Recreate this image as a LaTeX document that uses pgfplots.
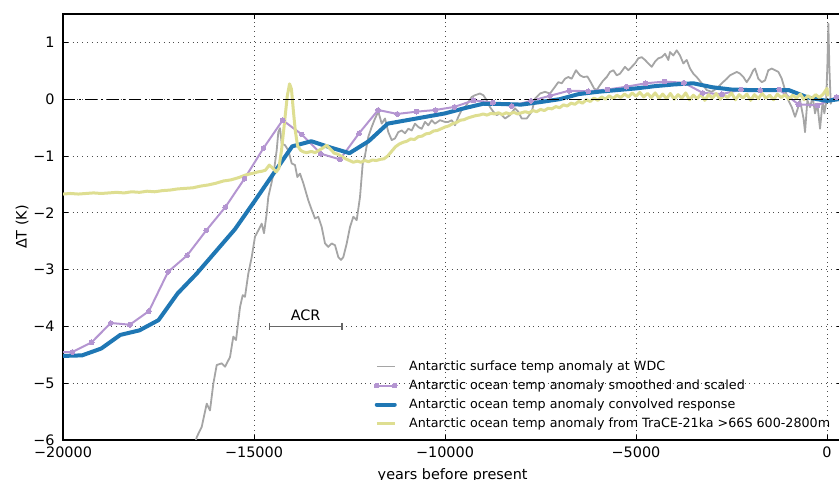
\documentclass[border=0pt]{standalone}
\usepackage{fontspec}
\setmainfont{DejaVu Sans}
\usepackage{pgfplots}
\pgfplotsset{compat=1.18}
\definecolor{wdcgray}{RGB}{165,165,165}
\definecolor{smpurple}{RGB}{180,149,209}
\definecolor{convblue}{RGB}{31,119,180}
\definecolor{traceyel}{RGB}{222,222,145}
\newcommand{\tickfont}{\fontsize{7.2}{8.6}\selectfont}
\pgfplotsset{
  markleg/.style={legend image code/.code={\draw[##1] plot coordinates {(0pt,0pt) (9pt,0pt)};}},
  roundleg/.style={legend image code/.code={\draw[##1,mark=none,line cap=round] (0pt,0pt) -- (9pt,0pt);}},
}
\begin{document}
\begin{tikzpicture}
\begin{axis}[
  scale only axis,
  width=389.65pt, height=213pt,
  xmin=-20000, xmax=400, ymin=-6, ymax=1.5,
  scaled x ticks=false,
  xtick={-20000,-15000,-10000,-5000,0},
  xticklabels={−20000,−15000,−10000,−5000,0},
  ytick={-6,-5,-4,-3,-2,-1,0,1},
  yticklabels={−6,−5,−4,−3,−2,−1,0,1},
  tick label style={font=\tickfont, inner sep=0pt},
  xticklabel style={yshift=-3.3pt},
  yticklabel style={xshift=-4pt},
  tick align=inside, major tick length=2.5pt,
  tick style={black, line width=0.4pt},
  axis line style={line width=0.6pt},
  grid=major, grid style={dotted, black!70, line width=0.4pt},
  xlabel={years before present},
  xlabel style={at={(axis description cs:0.5,-0.0657)}, anchor=north, inner sep=0pt, font=\tickfont},
  ylabel={ΔT (K)},
  ylabel style={at={(axis description cs:-0.0526,0.5)}, anchor=center, inner sep=0pt, font=\tickfont},
  legend style={at={(axis description cs:0.399,0.1886)}, anchor=north west, draw=none, fill=none,
    inner sep=0pt, column sep=6pt, row sep=3pt,
    nodes={inner sep=0pt, text height=5pt, text depth=1.5pt},
    font=\fontsize{6.35}{7.6}\selectfont},
  legend cell align=left,
  legend image code/.code={\draw[#1,mark=none] (0pt,0pt) -- (9pt,0pt);},
]
% WDC surface temperature
\addplot[wdcgray, line width=0.9pt, line join=round] coordinates {
(-16700,-6.5) (-16500,-5.95) (-16369,-5.77) (-16238,-5.36) (-16152,-5.48) (-16065,-5.01) (-15976,-4.68)
(-15845,-4.65) (-15759,-4.71) (-15628,-4.54) (-15542,-4.18) (-15471,-4.24) (-15366,-3.66) (-15296,-3.45)
(-15236,-3.48) (-15149,-3.07) (-15060,-2.78) (-14974,-2.42) (-14887,-2.31) (-14798,-2.19) (-14738,-2.36)
(-14668,-2.01) (-14626,-1.72) (-14537,-1.46) (-14476,-1.25) (-14406,-0.90) (-14364,-0.58) (-14319,-0.51)
(-14275,-0.78) (-14188,-0.81) (-14102,-0.90) (-14013,-1.13) (-13927,-1.16) (-13866,-1.37) (-13796,-1.31)
(-13709,-1.48) (-13579,-1.78) (-13489,-1.95) (-13403,-2.10) (-13317,-2.07) (-13228,-2.25) (-13141,-2.54)
(-13055,-2.60) (-12966,-2.54) (-12880,-2.57) (-12793,-2.78) (-12723,-2.83) (-12662,-2.78) (-12573,-2.54)
(-12487,-2.25) (-12400,-2.07) (-12312,-2.13) (-12225,-1.72) (-12154,-1.13) (-12094,-0.99) (-12008,-0.66)
(-11919,-0.49) (-11832,-0.34) (-11746,-0.22) (-11657,-0.43) (-11571,-0.34) (-11484,-0.58) (-11395,-0.72)
(-11309,-0.69) (-11223,-0.58) (-11134,-0.55) (-11047,-0.60) (-10961,-0.52) (-10872,-0.55) (-10785,-0.43)
(-10699,-0.49) (-10610,-0.52) (-10524,-0.40) (-10437,-0.46) (-10348,-0.37) (-10262,-0.43) (-10131,-0.37)
(-10000,-0.40) (-9913,-0.40) (-9825,-0.37) (-9738,-0.46) (-9652,-0.31) (-9563,-0.19) (-9476,-0.14)
(-9390,-0.05) (-9301,0.04) (-9215,0.07) (-9084,0.10) (-8997,0.07) (-8908,-0.02) (-8822,-0.14)
(-8736,-0.22) (-8647,-0.28) (-8560,-0.25) (-8429,-0.34) (-8298,-0.28) (-8168,-0.16) (-8081,-0.22)
(-7992,-0.34) (-7861,-0.34) (-7730,-0.22) (-7644,0.01) (-7513,0.10) (-7382,0.13) (-7251,0.10)
(-7120,0.22) (-7034,0.30) (-6945,0.28) (-6859,0.36) (-6772,0.39) (-6683,0.36) (-6571,0.51)
(-6466,0.42) (-6379,0.39) (-6274,0.40) (-6186,0.30) (-6099,0.19) (-6029,0.16) (-5942,0.25)
(-5856,0.33) (-5767,0.39) (-5681,0.48) (-5594,0.51) (-5505,0.42) (-5419,0.45) (-5288,0.57)
(-5202,0.51) (-5113,0.57) (-5026,0.63) (-4940,0.72) (-4851,0.74) (-4764,0.69) (-4678,0.63)
(-4589,0.57) (-4503,0.66) (-4416,0.72) (-4327,0.74) (-4241,0.80) (-4154,0.69) (-4110,0.83)
(-4023,0.77) (-3935,0.86) (-3849,0.77) (-3762,0.63) (-3673,0.69) (-3586,0.54) (-3500,0.45)
(-3411,0.39) (-3280,0.28) (-3149,0.16) (-3018,0.13) (-2887,0.19) (-2756,0.28) (-2625,0.36)
(-2539,0.42) (-2452,0.45) (-2364,0.48) (-2277,0.45) (-2190,0.39) (-2102,0.30) (-2015,0.39)
(-1929,0.51) (-1884,0.54) (-1798,0.36) (-1709,0.30) (-1623,0.33) (-1536,0.51) (-1447,0.54)
(-1361,0.51) (-1274,0.48) (-1185,0.36) (-1098,0.16) (-1012,-0.02) (-923,-0.14) (-837,-0.31)
(-777,-0.19) (-706,-0.02) (-615,-0.34) (-576,-0.58) (-515,-0.02) (-445,-0.14) (-375,0.04)
(-314,-0.25) (-254,-0.08) (-183,-0.52) (-112,-0.02) (-71,-0.25) (-27,-0.08) (8,0.57)
(35,1.33) (61,0.57) (97,-0.08) (123,-0.02)
};
\addlegendentry{Antarctic surface temp anomaly at WDC}
% smoothed and scaled ocean anomaly
\addplot[smpurple, line width=1pt, mark=*, mark size=1.2pt, mark options={line width=0pt}, markleg] coordinates {
(-20250,-4.46) (-19750,-4.45) (-19250,-4.28) (-18750,-3.94) (-18250,-3.97) (-17750,-3.73)
(-17250,-3.04) (-16750,-2.75) (-16250,-2.31) (-15750,-1.90) (-15250,-1.40) (-14750,-0.86)
(-14250,-0.37) (-13750,-0.62) (-13250,-0.96) (-12750,-1.06) (-12250,-0.60) (-11750,-0.19)
(-11250,-0.26) (-10750,-0.22) (-10250,-0.19) (-9750,-0.135) (-9250,-0.02) (-8750,-0.06)
(-8250,-0.12) (-7750,-0.03) (-7250,0.06) (-6750,0.15) (-6250,0.14) (-5750,0.17)
(-5250,0.22) (-4750,0.28) (-4250,0.31) (-3750,0.29) (-3250,0.11) (-2750,0.09)
(-2250,0.17) (-1750,0.16) (-1250,0.17) (-750,-0.09) (-250,-0.11) (250,0.04)
};
\addlegendentry{Antarctic ocean temp anomaly smoothed and scaled}
% convolved response
\addplot[convblue, line width=2pt, line join=round, line cap=round, roundleg] coordinates {
(-20000,-4.52) (-19500,-4.51) (-19000,-4.39) (-18500,-4.15) (-18000,-4.07) (-17500,-3.89)
(-17000,-3.42) (-16500,-3.07) (-16000,-2.68) (-15500,-2.29) (-15000,-1.81) (-14500,-1.32)
(-14000,-0.83) (-13500,-0.74) (-13000,-0.85) (-12500,-0.95) (-12000,-0.74) (-11500,-0.43)
(-11000,-0.37) (-10500,-0.31) (-10000,-0.25) (-9500,-0.16) (-9000,-0.08) (-8500,-0.085)
(-8000,-0.095) (-7500,-0.05) (-7000,0.0) (-6500,0.09) (-6000,0.13) (-5500,0.16)
(-5000,0.19) (-4500,0.23) (-4000,0.26) (-3500,0.28) (-3000,0.21) (-2500,0.17)
(-2000,0.16) (-1500,0.16) (-1000,0.16) (-500,0.03) (0,-0.03) (500,0.02)
};
\addlegendentry{Antarctic ocean temp anomaly convolved response}
% TraCE-21ka
\addplot[traceyel, line width=1.5pt, line join=round] coordinates {
(-20000,-1.67) (-19800,-1.66) (-19600,-1.67) (-19400,-1.66) (-19200,-1.65) (-19000,-1.66)
(-18800,-1.65) (-18600,-1.64) (-18400,-1.65) (-18200,-1.63) (-18000,-1.64) (-17800,-1.62)
(-17600,-1.63) (-17400,-1.61) (-17200,-1.60) (-17000,-1.58) (-16800,-1.57) (-16600,-1.56)
(-16400,-1.53) (-16200,-1.51) (-16000,-1.48) (-15800,-1.44) (-15600,-1.42) (-15400,-1.38)
(-15200,-1.33) (-15000,-1.30) (-14900,-1.28) (-14800,-1.27) (-14700,-1.25) (-14600,-1.16)
(-14500,-1.22) (-14420,-1.28) (-14350,-1.22) (-14280,-0.90) (-14200,-0.40) (-14130,0.05)
(-14070,0.27) (-14020,0.18) (-13970,-0.20) (-13920,-0.55) (-13860,-0.82) (-13780,-0.90)
(-13700,-0.93) (-13620,-0.94) (-13500,-0.92) (-13400,-0.94) (-13300,-0.90) (-13200,-0.86)
(-13100,-0.81) (-13000,-0.88) (-12900,-0.95) (-12800,-0.97) (-12700,-1.01) (-12600,-1.05)
(-12500,-1.08) (-12400,-1.11) (-12300,-1.09) (-12200,-1.11) (-12100,-1.08) (-12000,-1.10)
(-11900,-1.07) (-11800,-1.08) (-11700,-1.06) (-11600,-1.05) (-11500,-1.00) (-11400,-0.92)
(-11300,-0.84) (-11200,-0.79) (-11100,-0.76) (-11000,-0.74) (-10900,-0.70) (-10800,-0.71)
(-10700,-0.66) (-10600,-0.65) (-10500,-0.61) (-10400,-0.60) (-10300,-0.56) (-10200,-0.55)
(-10100,-0.52) (-10000,-0.49) (-9900,-0.47) (-9800,-0.43) (-9700,-0.41) (-9600,-0.37)
(-9500,-0.36) (-9400,-0.33) (-9300,-0.31) (-9200,-0.29) (-9100,-0.28) (-9000,-0.26)
(-8900,-0.28) (-8800,-0.25) (-8700,-0.26) (-8600,-0.24) (-8500,-0.27) (-8400,-0.24)
(-8300,-0.26) (-8200,-0.23) (-8100,-0.26) (-8000,-0.24) (-7900,-0.22) (-7800,-0.24)
(-7700,-0.20) (-7600,-0.22) (-7500,-0.18) (-7400,-0.20) (-7300,-0.16) (-7200,-0.17)
(-7100,-0.13) (-7000,-0.15) (-6900,-0.10) (-6800,-0.12) (-6700,-0.07) (-6600,-0.09)
(-6500,-0.04) (-6400,-0.07) (-6300,-0.01) (-6200,-0.04) (-6100,0.02) (-6000,-0.02)
(-5900,0.04) (-5800,0.00) (-5700,0.06) (-5600,0.01) (-5500,0.07) (-5400,0.03)
(-5300,0.09) (-5200,0.04) (-5100,0.11) (-5000,0.05) (-4900,0.12) (-4800,0.04)
(-4700,0.10) (-4600,0.03) (-4500,0.11) (-4400,0.02) (-4300,0.09) (-4200,0.01)
(-4100,0.10) (-4000,0.00) (-3900,0.08) (-3800,0.02) (-3700,0.11) (-3600,-0.01)
(-3500,0.07) (-3400,0.01) (-3300,0.09) (-3200,-0.02) (-3100,0.08) (-3000,0.02)
(-2900,0.10) (-2800,0.00) (-2700,0.07) (-2600,0.03) (-2500,0.11) (-2400,-0.01)
(-2300,0.08) (-2200,0.02) (-2100,0.09) (-2000,-0.02) (-1900,0.08) (-1800,0.01)
(-1700,0.10) (-1600,0.02) (-1500,0.07) (-1400,-0.01) (-1300,0.09) (-1200,0.03)
(-1100,0.08) (-1000,0.00) (-900,0.07) (-800,0.02) (-700,0.09) (-600,-0.01)
(-500,0.06) (-400,0.01) (-300,0.08) (-200,0.03) (-100,0.09) (0,0.19) (20,0.05)
};
\addlegendentry{Antarctic ocean temp anomaly from TraCE-21ka >66S 600-2800m}
% zero line
\addplot[black, line width=0.6pt, dash pattern=on 6pt off 2pt on 1pt off 2pt, forget plot]
  coordinates {(-20000,0) (400,0)};
% ACR interval
\addplot[black!60, line width=0.7pt, mark=|, mark size=1.75pt, mark options={solid}, forget plot]
  coordinates {(-14600,-4) (-12700,-4)};
\node[font=\tickfont, inner sep=0pt] at (axis cs:-13650,-3.8) {ACR};
\end{axis}
\pgfresetboundingbox
\path[use as bounding box] ([xshift=-31.5pt,yshift=-20pt]current axis.south west)
  rectangle ([xshift=-1.65pt,yshift=7pt]current axis.north east);
\end{tikzpicture}
\end{document}
